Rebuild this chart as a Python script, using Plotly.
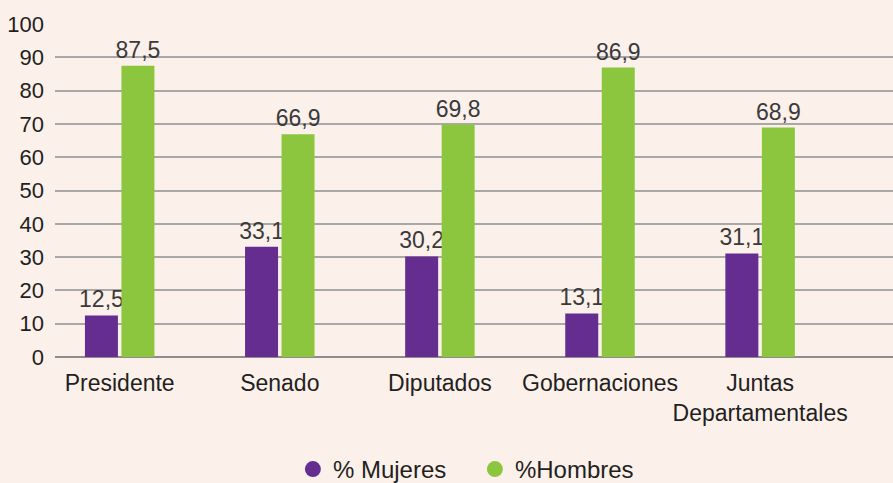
import plotly.graph_objects as go

categories = ["Presidente", "Senado", "Diputados", "Gobernaciones", "Juntas<br>Departamentales"]
mujeres = [12.5, 33.1, 30.2, 13.1, 31.1]
hombres = [87.5, 66.9, 69.8, 86.9, 68.9]
series_names = ["% Mujeres", "%Hombres"]
y_ticks = [0, 10, 20, 30, 40, 50, 60, 70, 80, 90, 100]

PURPLE = "#662D91"
GREEN = "#8CC63F"
BG = "#FCF0EB"
FONT = "Liberation Sans, Arial, sans-serif"
TXT = "#231F20"

fig = go.Figure()
for vals, name, col in [(mujeres, series_names[0], PURPLE), (hombres, series_names[1], GREEN)]:
    fig.add_trace(go.Bar(
        x=categories, y=vals, name=name, marker=dict(color=col, line=dict(width=0)),
        texttemplate="%{y:.1f}", textposition="outside", cliponaxis=False,
        constraintext="none",
        textfont=dict(size=23, color="#3A3A3A", family=FONT),
        showlegend=False,
    ))
    fig.add_trace(go.Scatter(
        x=[None], y=[None], mode="markers", name=name,
        marker=dict(symbol="circle", size=20, color=col), showlegend=True,
    ))

fig.update_layout(
    width=893, height=483,
    paper_bgcolor=BG, plot_bgcolor=BG,
    margin=dict(l=55, r=0, t=24, b=126, autoexpand=False),
    barmode="group", bargap=0.544, bargroupgap=0.096,
    separators=",.",
    font=dict(family=FONT, size=22, color=TXT),
    legend=dict(orientation="h", xref="container", yref="container",
                x=0.328, xanchor="left", y=0.028, yanchor="middle",
                entrywidth=137, entrywidthmode="pixels",
                font=dict(size=24, color=TXT), bgcolor="rgba(0,0,0,0)",
                itemwidth=30),
    xaxis=dict(type="category", range=[-0.404, 4.83], showgrid=False, showline=False,
               ticks="", ticklabelstandoff=10, tickangle=0, automargin=False,
               tickfont=dict(size=23, color=TXT)),
    yaxis=dict(range=[0, 100], tickvals=y_ticks, showgrid=True, gridcolor="#A8A8A8",
               gridwidth=1.5, zeroline=True, zerolinecolor="#8C8C8C", zerolinewidth=1.5,
               showline=False, ticks="", ticklabelstandoff=10, automargin=False,
               tickfont=dict(size=22, color=TXT)),
)

fig.write_html("out.html", config={"displayModeBar": False},
               post_script="document.body.style.margin='0';document.body.style.background='" + BG + "';")
